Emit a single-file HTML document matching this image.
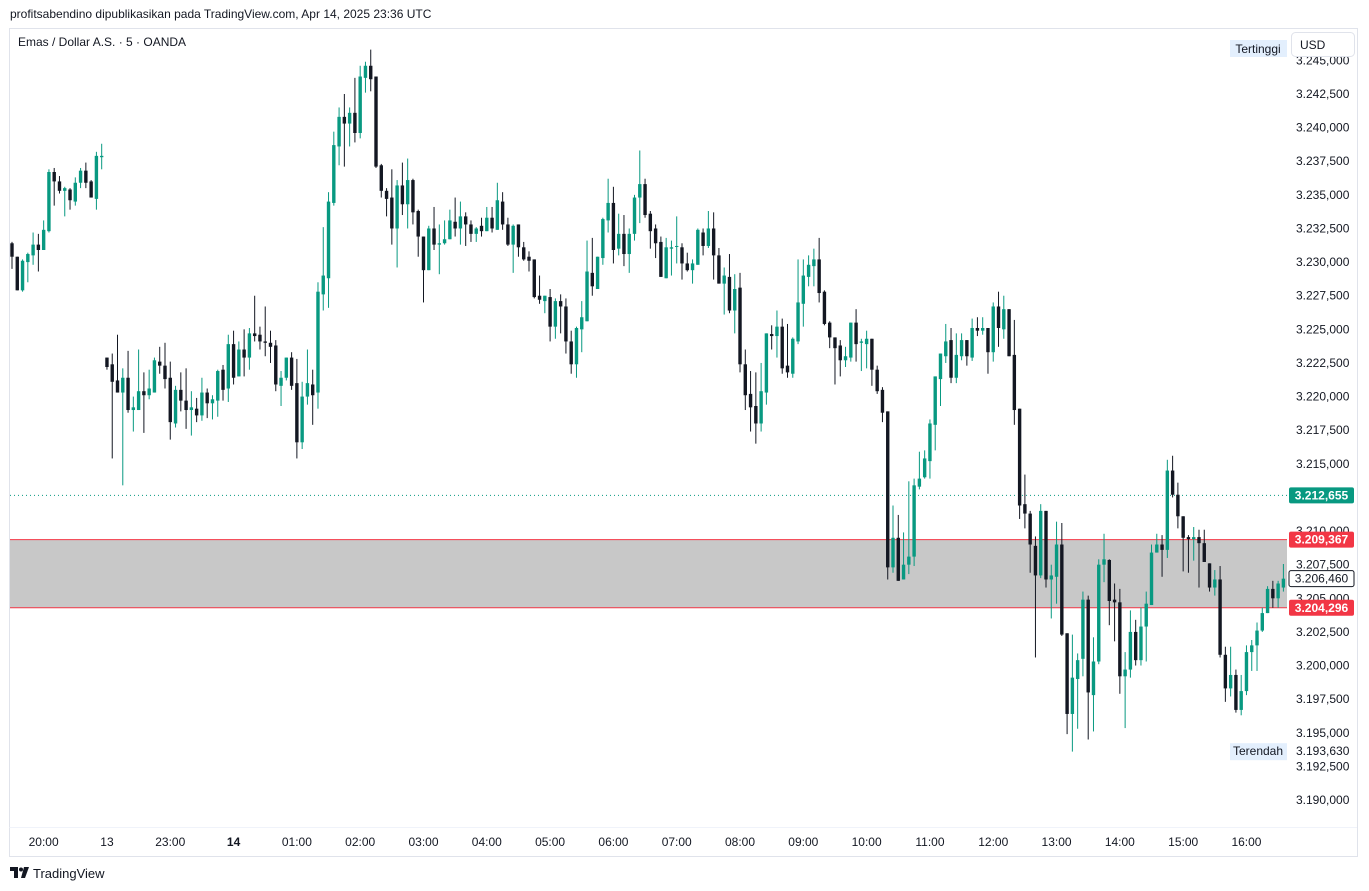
<!DOCTYPE html>
<html><head><meta charset="utf-8"><style>
body{margin:0;background:#fff;font-family:"Liberation Sans",sans-serif;}
#wrap{position:relative;width:1369px;height:891px;overflow:hidden;}
svg text{font-family:"Liberation Sans",sans-serif;}
</style></head><body>
<div id="wrap">
<svg id="chart" width="1369" height="891"></svg>
</div>
<script>
const candles = [
[3231.4,3231.5,3229.5,3230.4],[3230.4,3230.4,3227.9,3227.9],[3227.9,3230.2,3227.8,3230.1],[3230.0,3230.7,3228.5,3230.6],[3230.5,3232.2,3229.8,3231.3],[3231.3,3232.1,3229.3,3230.9],[3230.9,3233.1,3230.9,3232.4],[3232.3,3236.9,3232.2,3236.7],[3236.7,3237.0,3234.2,3236.0],[3236.0,3236.4,3235.1,3235.3],[3235.3,3235.6,3233.4,3235.5],[3235.4,3235.5,3233.9,3234.6],[3234.5,3236.3,3234.2,3235.9],[3235.9,3237.0,3235.5,3236.8],[3236.8,3237.4,3235.5,3235.9],[3236.0,3236.1,3234.8,3234.8],[3234.7,3238.2,3233.9,3237.9],[3237.8,3238.8,3236.9,3237.9],
[3222.9,3222.9,3222.0,3222.2],[3222.4,3223.2,3215.4,3221.1],[3221.2,3224.6,3220.3,3220.3],[3220.3,3222.1,3213.4,3221.4],[3221.4,3223.4,3218.8,3219.0],[3219.0,3220.0,3217.4,3219.2],[3219.0,3223.5,3219.0,3220.4],[3220.4,3221.8,3217.3,3220.1],[3220.1,3222.0,3219.8,3220.6],[3220.3,3222.9,3220.3,3222.7],
[3222.6,3223.7,3221.7,3222.3],[3222.3,3224.0,3220.6,3221.3],[3221.4,3222.6,3216.8,3218.1],[3218.0,3220.8,3217.7,3220.5],[3220.5,3221.8,3218.9,3219.7],[3219.7,3222.1,3217.6,3219.0],[3219.0,3220.4,3217.1,3219.2],[3219.1,3219.9,3218.1,3218.6],[3218.6,3221.4,3218.2,3220.3],[3220.3,3220.6,3218.4,3219.5],
[3219.5,3220.1,3218.3,3219.8],[3219.7,3222.0,3218.5,3221.9],[3222.0,3222.35,3219.7,3220.5],[3220.6,3224.6,3219.6,3223.9],[3223.9,3224.9,3220.9,3221.4],[3221.5,3224.1,3221.5,3223.5],[3223.5,3225.0,3221.5,3222.9],[3222.9,3225.1,3222.0,3224.7],[3224.7,3227.5,3224.1,3224.5],[3224.6,3225.2,3223.5,3224.1],
[3224.1,3226.7,3223.0,3224.0],[3224.0,3224.9,3222.5,3223.7],[3223.8,3224.2,3220.4,3220.9],[3220.8,3221.9,3219.3,3221.4],[3221.4,3222.9,3221.2,3222.9],[3222.9,3223.3,3220.5,3220.8],[3221.0,3222.8,3215.4,3216.6],[3216.6,3221.1,3216.1,3220.0],[3220.0,3223.5,3219.4,3221.0],[3220.9,3222.0,3217.9,3220.1],
[3220.3,3228.5,3219.1,3227.8],[3227.6,3232.6,3226.4,3229.0],[3228.8,3235.2,3226.6,3234.5],[3234.4,3239.7,3234.2,3238.7],[3238.6,3241.5,3237.2,3240.8],[3240.8,3242.5,3237.1,3240.3],[3240.3,3241.5,3238.6,3241.1],[3241.1,3243.7,3238.9,3239.6],[3239.6,3244.6,3239.2,3243.8],[3243.7,3244.9,3242.6,3244.6],
[3244.6,3245.8,3242.7,3243.6],[3243.8,3243.8,3237.0,3237.1],[3237.2,3237.3,3234.8,3235.3],[3235.3,3235.5,3233.4,3234.7],[3234.8,3236.9,3231.3,3232.5],[3232.5,3236.1,3229.6,3235.7],[3235.7,3237.4,3233.5,3234.3],[3234.3,3237.7,3232.5,3236.1],[3236.1,3236.2,3232.8,3233.7],[3233.8,3233.9,3230.4,3231.9],
[3231.9,3231.9,3227.0,3229.4],[3229.4,3232.7,3229.4,3232.5],[3232.5,3234.1,3230.9,3231.3],[3231.3,3232.8,3229.1,3231.4],[3231.4,3233.1,3231.3,3231.7],[3231.7,3233.9,3231.7,3233.1],[3233.0,3234.8,3231.9,3232.5],[3232.5,3234.5,3231.3,3233.4],[3233.4,3233.7,3231.2,3232.8],[3232.8,3233.1,3231.5,3232.1],
[3232.1,3232.6,3231.5,3232.5],[3232.7,3233.3,3231.9,3232.3],[3232.3,3234.1,3232.3,3233.3],[3233.3,3234.1,3232.2,3232.5],[3232.4,3235.9,3232.4,3234.6],[3234.5,3235.2,3232.4,3232.8],[3232.8,3233.3,3231.2,3231.3],[3231.3,3232.8,3229.2,3232.7],[3232.8,3232.8,3230.4,3231.1],[3231.1,3231.5,3230.1,3230.2],
[3230.4,3230.8,3229.3,3230.1],[3230.2,3230.2,3227.3,3227.4],[3227.5,3229.0,3226.9,3227.2],[3227.1,3227.5,3226.2,3227.5],[3227.4,3228.0,3224.1,3225.2],[3225.2,3227.3,3224.3,3227.1],[3227.1,3227.6,3224.7,3226.7],[3226.7,3227.3,3223.2,3224.1],[3224.1,3224.9,3221.7,3222.4],[3222.4,3225.2,3221.4,3225.1],
[3225.0,3227.1,3223.3,3225.9],[3225.6,3231.6,3225.6,3229.3],[3229.2,3231.8,3227.5,3228.2],[3228.0,3230.4,3228.0,3230.4],[3230.3,3233.3,3229.8,3233.2],[3233.1,3236.2,3232.2,3234.4],[3234.4,3235.6,3229.9,3230.9],[3231.0,3233.6,3230.5,3232.1],[3232.1,3233.5,3229.7,3230.6],[3230.6,3232.5,3229.2,3232.1],
[3232.1,3235.0,3231.6,3234.8],[3234.8,3238.3,3232.9,3235.8],[3235.8,3236.2,3233.3,3233.5],[3233.6,3233.8,3231.0,3232.3],[3232.5,3232.8,3230.3,3231.4],[3231.5,3231.9,3228.9,3228.9],[3228.8,3231.8,3228.8,3231.1],[3231.0,3231.6,3229.0,3231.1],[3231.2,3233.4,3229.9,3231.2],[3231.1,3231.4,3228.7,3229.9],
[3229.9,3230.7,3229.3,3229.4],[3229.4,3230.2,3228.4,3229.9],[3229.8,3232.5,3229.8,3232.4],[3232.2,3232.5,3230.5,3231.2],[3231.2,3233.8,3231.05,3232.5],[3232.5,3233.7,3228.7,3230.5],[3230.5,3231.05,3228.4,3228.4],[3228.4,3229.6,3226.1,3229.0],[3228.9,3230.6,3226.2,3226.4],[3226.4,3229.1,3224.7,3228.0],
[3228.1,3229.2,3221.8,3222.4],[3222.4,3223.5,3219.0,3220.1],[3220.2,3221.9,3217.4,3219.2],[3219.3,3221.8,3216.5,3218.0],[3218.0,3222.5,3217.4,3220.4],[3220.3,3224.7,3219.4,3224.7],[3224.65,3225.3,3223.5,3224.5],[3224.5,3226.4,3222.9,3225.2],[3225.2,3225.8,3221.7,3222.1],[3222.3,3225.4,3221.4,3221.8],
[3221.7,3224.4,3221.4,3224.3],[3224.1,3230.2,3223.9,3227.0],[3226.9,3230.2,3225.2,3229.0],[3228.9,3230.5,3228.2,3229.8],[3229.7,3231.0,3228.2,3230.2],[3230.2,3231.8,3227.0,3227.7],[3227.8,3227.9,3225.3,3225.4],[3225.5,3225.6,3223.6,3224.4],[3224.4,3224.4,3220.9,3223.6],[3223.8,3224.2,3221.5,3222.7],
[3222.7,3223.7,3222.2,3223.0],[3222.9,3225.5,3222.6,3225.5],[3225.5,3226.5,3222.6,3223.9],[3224.0,3224.3,3221.9,3224.1],[3223.9,3224.9,3222.1,3224.3],[3224.3,3224.3,3220.8,3222.0],[3222.0,3222.3,3220.2,3220.4],[3220.5,3220.7,3218.1,3218.8],[3218.9,3218.9,3206.4,3207.3],[3207.3,3211.9,3206.9,3209.5],
[3209.5,3211.2,3206.3,3206.3],[3206.4,3209.9,3206.4,3207.5],[3207.5,3213.7,3206.8,3208.1],[3208.1,3213.9,3207.4,3213.4],[3213.3,3215.9,3213.1,3213.9],[3214.0,3216.0,3213.9,3215.4],[3215.2,3218.3,3213.9,3218.0],[3217.9,3221.5,3216.0,3221.5],[3221.3,3223.2,3219.3,3223.2],[3223.0,3225.4,3222.5,3224.1],
[3224.2,3225.1,3221.0,3221.4],[3221.4,3224.7,3221.0,3223.1],[3223.0,3224.7,3222.7,3224.2],[3224.2,3224.2,3222.3,3223.0],[3222.9,3225.8,3222.65,3225.1],[3225.1,3225.9,3224.5,3224.9],[3224.9,3225.9,3224.6,3225.1],[3225.1,3225.1,3221.7,3223.3],[3223.3,3227.0,3222.6,3226.7],[3226.7,3227.8,3223.7,3225.1],
[3225.0,3227.5,3224.3,3226.5],[3226.5,3226.5,3223.0,3223.0],[3223.1,3225.7,3217.9,3219.0],[3219.1,3219.1,3210.9,3211.9],[3212.0,3214.2,3210.2,3211.3],[3211.3,3211.5,3206.9,3209.0],[3208.9,3209.6,3200.6,3206.7],[3206.7,3212.0,3206.5,3211.5],[3211.5,3211.5,3205.8,3206.4],[3206.4,3207.5,3203.5,3206.7],
[3206.6,3210.7,3204.6,3209.0],[3209.0,3210.6,3202.2,3202.3],[3202.4,3202.4,3194.9,3196.4],[3196.4,3202.3,3193.6,3199.1],[3199.0,3200.9,3195.3,3200.4],[3200.5,3205.5,3199.2,3204.9],[3204.9,3205.2,3194.5,3198.0],[3197.8,3202.1,3195.1,3200.3],[3200.3,3207.9,3200.1,3207.5],[3207.5,3209.8,3206.2,3207.9],
[3207.85,3207.9,3203.0,3204.8],[3204.9,3206.1,3201.8,3204.7],[3204.7,3205.7,3197.9,3199.2],[3199.2,3201.0,3195.35,3199.7],[3199.7,3204.1,3199.1,3202.5],[3202.5,3203.4,3200.0,3200.4],[3200.4,3204.3,3200.0,3202.9],[3202.9,3205.5,3200.3,3204.6],[3204.5,3209.0,3204.5,3208.4],[3208.4,3209.8,3208.4,3209.0],
[3209.0,3209.7,3206.6,3208.6],[3208.6,3215.3,3208.0,3214.5],[3214.5,3215.6,3212.5,3212.7],[3212.7,3213.6,3210.2,3211.1],[3211.1,3211.1,3207.0,3209.5],[3209.55,3209.7,3206.9,3209.4],[3209.4,3210.3,3207.8,3209.55],[3209.55,3210.1,3205.8,3209.1],[3209.1,3210.1,3207.7,3207.7],[3207.6,3207.6,3205.5,3205.8],
[3205.8,3207.1,3205.2,3206.4],[3206.4,3207.4,3200.6,3200.8],[3200.8,3201.4,3197.3,3198.3],[3198.3,3201.4,3197.7,3199.3],[3199.3,3199.7,3196.5,3196.7],[3196.7,3199.3,3196.3,3198.1],[3198.1,3201.5,3197.8,3201.0],[3201.0,3201.9,3199.6,3201.5],[3201.5,3203.2,3199.6,3202.6],[3202.6,3204.3,3202.5,3203.9],
[3203.9,3205.9,3203.9,3205.7],[3205.7,3206.3,3204.3,3205.0],[3205.0,3206.3,3204.3,3206.1],[3205.8,3207.55,3205.5,3206.46]
];
const priceTicks = [3190,3192.5,3195,3197.5,3200,3202.5,3205,3207.5,3210,3212.5,3215,3217.5,3220,3222.5,3225,3227.5,3230,3232.5,3235,3237.5,3240,3242.5,3245];
const timeLabels = ["20:00","13","23:00","14","01:00","02:00","03:00","04:00","05:00","06:00","07:00","08:00","09:00","10:00","11:00","12:00","13:00","14:00","15:00","16:00"];
const timeIndex = [6,18,30,42,54,66,78,90,102,114,126,138,150,162,174,186,198,210,222,234];
const zoneTop = 3209.367, zoneBottom = 3204.296;
const lastPrice = 3212.655, currentPrice = 3206.46, lowPrice = 3193.630;

const NS="http://www.w3.org/2000/svg";
const svg=document.getElementById('chart');
const plotL=10, plotR=1287, plotT=29, plotB=827;
function yS(p){return 94+(3242.5-p)*13.448;}
function xS(i){return 12+i*5.2755;}
function fmt(p){const s=p.toFixed(3).split('.');return s[0][0]+'.'+s[0].slice(1)+','+s[1];}
function mk(tag,attrs,parent){const e=document.createElementNS(NS,tag);for(const k in attrs)e.setAttribute(k,attrs[k]);(parent||svg).appendChild(e);return e;}

// header
let t=mk('text',{x:10,y:18,'font-size':12,fill:'#131722'});


t.textContent='profitsabendino dipublikasikan pada TradingView.com, Apr 14, 2025 23:36 UTC';
// pane border
let pane=mk('rect',{x:9.5,y:28.5,width:1348,height:828,fill:'#fff',stroke:'#e0e3eb'});


mk('line',{x1:9.5,y1:827.5,x2:1357,y2:827.5,stroke:'#f0f3fa'});

// clip
const defs=mk('defs',{});
const cp=mk('clipPath',{id:'plotclip'},defs);
mk('rect',{x:plotL,y:plotT,width:plotR-plotL,height:plotB-plotT},cp);
const g=mk('g',{'clip-path':'url(#plotclip)'});



// zone
let z=mk('rect',{x:plotL,y:yS(zoneTop),width:plotR-plotL,height:yS(zoneBottom)-yS(zoneTop),fill:'#c8c8c8'},g);


let zl1=mk('line',{x1:plotL,x2:plotR,y1:yS(zoneTop),y2:yS(zoneTop),stroke:'#f23645','stroke-width':1},g);


let zl2=mk('line',{x1:plotL,x2:plotR,y1:yS(zoneBottom),y2:yS(zoneBottom),stroke:'#f23645','stroke-width':1},g);


// price line
let pl=mk('line',{x1:plotL,x2:plotR,y1:yS(lastPrice),y2:yS(lastPrice),stroke:'#089981','stroke-width':1,'stroke-dasharray':'1 3'},g);



// candles
candles.forEach((c,i)=>{
  const [o,h,l,cl]=c;
  const col=cl>=o?'#089981':'#131722';
  const x=xS(i);
  const cg=mk('g',{},g);
  
  
  mk('line',{x1:x,x2:x,y1:yS(h),y2:yS(l),stroke:col,'stroke-width':1},cg);
  const top=yS(Math.max(o,cl)), bot=yS(Math.min(o,cl));
  mk('rect',{x:x-1.7,y:top,width:3.4,height:Math.max(1,bot-top),fill:col},cg);
});

// price axis
priceTicks.forEach(p=>{
  const tt=mk('text',{x:1296,y:yS(p)+4,'font-size':12,fill:'#131722'});
  
  
  tt.textContent=fmt(p);
});
// time axis
timeLabels.forEach((s,k)=>{
  const tt=mk('text',{x:xS(timeIndex[k]),y:846,'font-size':12,fill:'#131722','text-anchor':'middle','font-weight':(s==='13'||s==='14')&&k<4&&s==='14'?'bold':'normal'});
  
  
  tt.textContent=s;
});

function tag(p,bg,fg,name,border){
  const y=yS(p);
  const r=mk('rect',{x:1289,y:y-8,width:65,height:16,rx:2,fill:bg,stroke:border||'none'});
  
  
  const tt=mk('text',{x:1321.5,y:y+4,'font-size':12,fill:fg,'text-anchor':'middle','font-weight':border?'normal':'bold'});
  
  
  tt.textContent=fmt(p);
}
tag(lastPrice,'#089981','#fff','last-price-tag');
tag(zoneTop,'#f23645','#fff','zone-top-tag');
tag(zoneBottom,'#f23645','#fff','zone-bottom-tag');
tag(currentPrice,'#fff','#131722','current-price-tag','#131722');
// low value
let lt=mk('text',{x:1296,y:yS(lowPrice)+4,'font-size':12,fill:'#131722'});


lt.textContent=fmt(lowPrice);
let lr=mk('rect',{x:1230,y:yS(lowPrice)-8,width:57,height:17,fill:'#e3effd'});


let lrt=mk('text',{x:1258,y:yS(lowPrice)+4,'font-size':12,fill:'#131722','text-anchor':'middle'});


lrt.textContent='Terendah';
// high marker
let hr=mk('rect',{x:1230,y:40,width:57,height:17,fill:'#e3effd'});


let hrt=mk('text',{x:1258,y:53,'font-size':12,fill:'#131722','text-anchor':'middle'});


hrt.textContent='Tertinggi';
// USD button
let ub=mk('rect',{x:1291.5,y:32.5,width:63,height:24,rx:4,fill:'#fff',stroke:'#e0e3eb'});


let ut=mk('text',{x:1300,y:49,'font-size':12,fill:'#131722'});


ut.textContent='USD';
// symbol
let st=mk('text',{x:18,y:46,'font-size':12,fill:'#131722'});


st.textContent='Emas / Dollar A.S. · 5 · OANDA';
// footer logo
let lg=mk('g',{});


mk('path',{d:'M10 867h8v11h-4v-7h-4z',fill:'#131722'},lg);
mk('circle',{cx:21,cy:869.5,r:2,fill:'#131722'},lg);
mk('path',{d:'M24 867h5l-4 11h-4z',fill:'#131722'},lg);
let ft=mk('text',{x:33,y:878,'font-size':13,fill:'#131722'},lg);
ft.textContent='TradingView';
</script>
</body></html>
